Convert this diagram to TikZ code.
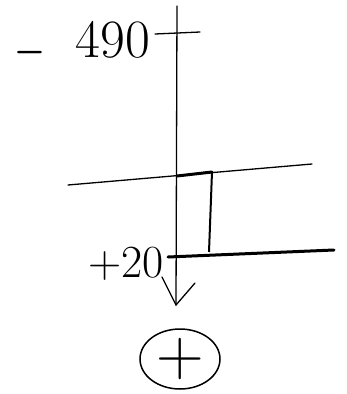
\documentclass[tikz,border=0pt]{standalone}
\usetikzlibrary{shapes.geometric}
\begin{document}
\begin{tikzpicture}[x=1pt,y=-1pt,
  thinline/.style={line width=1.3pt,line cap=round},
  thickline/.style={line width=3pt,line cap=round,line join=round},
  lbl/.style={inner sep=0pt,font=\fontsize{54}{58}\selectfont},
  lblsmall/.style={inner sep=0pt,font=\fontsize{46}{48}\selectfont}]
\useasboundingbox (0,0) rectangle (347,394);
% axis
\coordinate (top) at (177,6);
\coordinate (tip) at (176,305);
\draw[thinline] (top) -- (tip);
\draw[thinline] (162,277) -- (tip) -- (195,283);
% top tick
\coordinate (t1) at (155,34);
\coordinate (t2) at (200,32);
\draw[thinline] (t1) -- (t2);
\node[lbl,anchor=east] (lab490) at (150,47) {\raisebox{-10pt}{\scalebox{1.6}[2.4]{$-$}}\hspace{30pt}490};
% upper surface
\coordinate (u1) at (68,185);
\coordinate (u2) at (312,164);
\draw[thinline] (u1) -- (u2);
\coordinate (b1) at (177,176);
\coordinate (b2) at (212,172);
\coordinate (b3) at (209,252);
\draw[thickline] (b1) -- (b2);
\draw[line width=2pt] (b2) -- (b3);
% lower surface
\coordinate (l1) at (168,257);
\coordinate (l2) at (334,250);
\draw[thickline] (l1) -- (l2);
\node[lblsmall,anchor=east] (lab20) at (164,264) {+20};
% circled plus
\node[ellipse,draw,line width=1.5pt,minimum width=80pt,minimum height=60pt,inner sep=0pt,
  font=\fontsize{66}{66}\selectfont] (plus) at (180,359) {+};
\end{tikzpicture}
\end{document}
